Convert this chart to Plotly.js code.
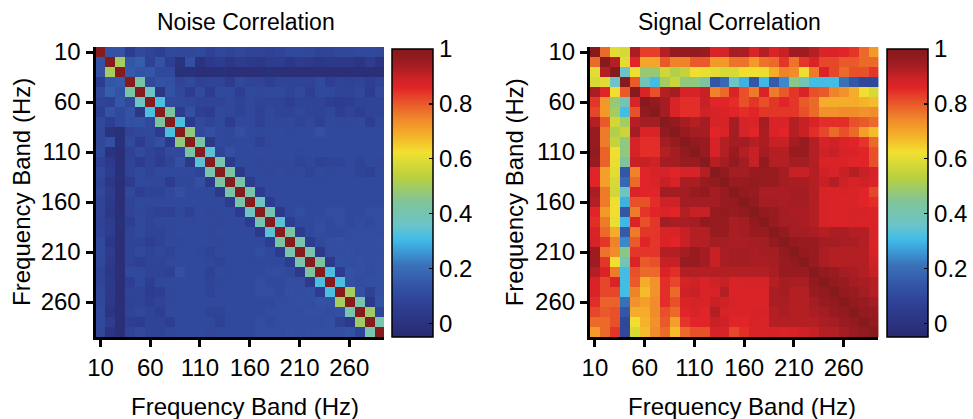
<!DOCTYPE html>
<html>
<head>
<meta charset="utf-8">
<script src="https://cdn.plot.ly/plotly-3.0.1.min.js"></script>
<style>html,body{margin:0;padding:0;background:#fff;}#chart{width:973px;height:419px;}</style>
</head>
<body>
<div id="chart"></div>
<script>
// Frequency bands (Hz)
const bands = [10,20,30,40,50,60,70,80,90,100,110,120,130,140,150,160,170,180,190,200,210,220,230,240,250,260,270,280,290];
const tickVals = [10,60,110,160,210,260];
const tickText = ['10','60','110','160','210','260'];
const cbVals = [0,0.2,0.4,0.6,0.8,1];
const cbText = ['0','0.2','0.4','0.6','0.8','1'];

// Noise correlation matrix (rows = y band, cols = x band)
const noise = [
[1,.13,.13,.05,.10,.08,.06,.10,.09,.09,.10,.07,.09,.08,.09,.08,.08,.07,.08,.10,.10,.09,.08,.08,.09,.09,.10,.10,.09],
[.13,1,.50,.14,.16,.07,.13,.06,.00,.12,.00,.04,.05,.02,.05,.04,.02,.05,.05,.02,.05,.04,.02,.04,.04,.03,.01,.05,.01],
[.13,.50,1,.15,.13,.14,.10,.10,-.01,-.01,-.02,-.02,-.01,-.02,-.02,-.02,-.02,-.01,-.02,-.02,-.02,-.02,-.02,-.02,-.02,-.02,-.02,-.02,-.02],
[.05,.14,.15,1,.42,.10,.13,.12,.08,.10,.07,.08,.08,.05,.09,.08,.08,.06,.08,.08,.08,.08,.10,.06,.08,.07,.08,.06,.08],
[.10,.16,.13,.42,1,.37,.02,.13,.09,.05,.10,.05,.10,.10,.06,.10,.09,.10,.10,.08,.10,.06,.10,.10,.08,.08,.09,.05,.10],
[.08,.07,.14,.10,.37,1,.32,.10,.10,.09,.08,.08,.08,.09,.08,.09,.08,.08,.08,.06,.08,.08,.08,.06,.05,.06,.08,.08,.08],
[.06,.13,.10,.13,.02,.32,1,.43,.05,.12,.06,.05,.10,.09,.08,.09,.07,.09,.08,.08,.09,.08,.08,.09,.06,.08,.06,.08,.08],
[.10,.06,.10,.12,.13,.10,.43,1,.32,.04,.10,.08,.10,.05,.10,.10,.07,.10,.09,.10,.08,.09,.07,.10,.09,.09,.10,.06,.09],
[.09,.00,-.01,.08,.09,.10,.05,.32,1,.47,.10,.12,.10,.09,.12,.10,.09,.10,.10,.09,.10,.10,.12,.10,.10,.10,.10,.10,.10],
[.09,.12,-.01,.10,.05,.09,.12,.04,.47,1,.42,.03,.10,.09,.10,.10,.07,.09,.10,.10,.10,.10,.10,.10,.10,.10,.10,.10,.10],
[.10,.00,-.02,.07,.10,.08,.06,.10,.10,.42,1,.34,.08,.12,.10,.10,.10,.10,.10,.10,.09,.10,.10,.10,.10,.10,.10,.10,.10],
[.07,.04,-.02,.08,.05,.08,.05,.08,.12,.03,.34,1,.41,.04,.10,.10,.09,.10,.09,.10,.08,.09,.07,.08,.08,.10,.08,.10,.09],
[.09,.05,-.01,.08,.10,.08,.10,.10,.10,.10,.08,.41,1,.42,.04,.10,.10,.09,.10,.09,.10,.08,.10,.09,.10,.10,.08,.07,.10],
[.08,.02,-.02,.05,.10,.09,.09,.05,.09,.09,.12,.04,.42,1,.42,.05,.10,.10,.10,.10,.10,.10,.09,.10,.10,.10,.10,.10,.10],
[.09,.05,-.02,.09,.06,.08,.08,.10,.12,.10,.10,.10,.04,.42,1,.41,.05,.10,.10,.10,.10,.10,.10,.10,.10,.10,.10,.10,.10],
[.08,.04,-.02,.08,.10,.09,.09,.10,.10,.10,.10,.10,.10,.05,.41,1,.37,.05,.10,.10,.10,.09,.10,.10,.10,.10,.10,.10,.10],
[.08,.02,-.02,.08,.09,.08,.07,.07,.09,.07,.10,.09,.10,.10,.05,.37,1,.40,.04,.10,.11,.10,.10,.11,.11,.10,.10,.11,.11],
[.07,.05,-.01,.06,.10,.08,.09,.10,.10,.09,.10,.10,.09,.10,.10,.05,.40,1,.34,.06,.10,.10,.11,.10,.11,.10,.11,.10,.11],
[.08,.05,-.02,.08,.10,.08,.08,.09,.10,.10,.10,.09,.10,.10,.10,.10,.04,.34,1,.43,.05,.10,.11,.10,.10,.11,.11,.11,.11],
[.10,.02,-.02,.08,.08,.06,.08,.10,.09,.10,.10,.10,.09,.10,.10,.10,.10,.06,.43,1,.41,.05,.10,.11,.12,.11,.11,.11,.12],
[.10,.05,-.02,.08,.10,.08,.09,.08,.10,.10,.09,.08,.10,.10,.10,.10,.11,.10,.05,.41,1,.41,.04,.11,.11,.12,.11,.11,.11],
[.09,.04,-.02,.08,.06,.08,.08,.09,.10,.10,.10,.09,.08,.10,.10,.09,.10,.10,.10,.05,.41,1,.43,.04,.12,.11,.12,.11,.12],
[.08,.02,-.02,.10,.10,.08,.08,.07,.12,.10,.10,.07,.10,.09,.10,.10,.10,.11,.11,.10,.04,.43,1,.32,.05,.13,.12,.11,.12],
[.08,.04,-.02,.06,.10,.06,.09,.10,.10,.10,.10,.08,.09,.10,.10,.10,.11,.10,.10,.11,.11,.04,.32,1,.32,.12,.11,.12,.12],
[.09,.04,-.02,.08,.08,.05,.06,.09,.10,.10,.10,.08,.10,.10,.10,.10,.11,.11,.10,.12,.11,.12,.05,.32,1,.50,.12,.07,.12],
[.09,.03,-.02,.07,.08,.06,.08,.09,.10,.10,.10,.10,.10,.10,.10,.10,.10,.10,.11,.11,.12,.11,.13,.12,.50,1,.41,.04,.13],
[.10,.01,-.02,.08,.09,.08,.06,.10,.10,.10,.10,.08,.08,.10,.10,.10,.10,.11,.11,.11,.11,.12,.12,.11,.12,.41,1,.49,.08],
[.10,.05,-.02,.06,.05,.08,.08,.06,.10,.10,.10,.10,.07,.10,.10,.10,.11,.10,.11,.11,.11,.11,.11,.12,.07,.04,.49,1,.41],
[.09,.01,-.02,.08,.10,.08,.08,.09,.10,.10,.10,.09,.10,.10,.10,.10,.11,.11,.11,.12,.11,.12,.12,.12,.12,.13,.08,.41,1]
];

// Signal correlation matrix
const signal = [
[1,.78,.60,.58,.93,.83,.83,.92,.97,.97,.97,.96,.87,.88,.94,.93,.87,.92,.87,.90,.95,.95,.92,.87,.87,.86,.84,.78,.72],
[.78,1,.92,.60,.86,.70,.70,.80,.75,.75,.80,.80,.72,.72,.77,.77,.72,.77,.78,.84,.77,.84,.87,.82,.82,.80,.80,.78,.78],
[.60,.92,1,.36,.62,.48,.48,.57,.52,.55,.62,.61,.60,.58,.58,.62,.62,.61,.69,.75,.74,.62,.76,.87,.82,.78,.81,.81,.84],
[.58,.60,.36,1,.80,.39,.31,.50,.56,.47,.47,.43,.14,.19,.37,.29,.14,.30,.15,.24,.46,.39,.31,.31,.31,.21,.14,.09,.09],
[.93,.86,.62,.80,1,.87,.81,.92,.94,.88,.88,.90,.75,.78,.87,.81,.76,.87,.76,.80,.84,.87,.81,.80,.75,.73,.69,.62,.58],
[.84,.72,.48,.39,.87,1,.97,.94,.87,.85,.85,.90,.86,.86,.85,.81,.84,.81,.84,.86,.84,.80,.78,.69,.69,.69,.69,.68,.67],
[.82,.72,.50,.31,.81,.97,1,.94,.87,.85,.85,.89,.88,.87,.86,.85,.86,.84,.84,.84,.84,.81,.78,.73,.73,.74,.74,.73,.74],
[.92,.80,.57,.50,.92,.94,.94,1,.97,.94,.92,.94,.88,.88,.94,.88,.87,.94,.87,.87,.92,.90,.87,.85,.85,.85,.81,.80,.78],
[.96,.76,.52,.56,.94,.87,.87,.97,1,.96,.94,.94,.86,.87,.94,.88,.86,.93,.87,.86,.92,.90,.85,.82,.78,.81,.78,.71,.67],
[.96,.76,.55,.47,.88,.85,.85,.94,.96,1,.97,.96,.88,.92,.94,.94,.92,.93,.90,.90,.94,.96,.92,.88,.89,.87,.86,.84,.78],
[.97,.79,.62,.47,.88,.85,.85,.92,.94,.97,1,.96,.88,.92,.96,.92,.90,.94,.92,.92,.96,.96,.92,.89,.90,.88,.87,.86,.81],
[.96,.79,.61,.43,.90,.90,.89,.94,.94,.96,.96,1,.92,.94,.97,.94,.90,.97,.92,.92,.94,.94,.92,.87,.87,.87,.86,.86,.81],
[.86,.71,.60,.14,.75,.86,.88,.88,.86,.88,.88,.92,1,.97,.94,.94,.96,.96,.96,.94,.90,.90,.92,.89,.88,.90,.92,.90,.88],
[.86,.71,.58,.19,.78,.86,.87,.90,.88,.93,.93,.96,.97,1,.96,.96,.97,.96,.96,.94,.93,.93,.92,.90,.92,.89,.88,.89,.87],
[.93,.76,.57,.37,.87,.86,.86,.94,.94,.94,.96,.97,.94,.96,1,.97,.96,.93,.93,.93,.94,.94,.92,.87,.87,.88,.87,.86,.82],
[.92,.76,.62,.29,.81,.81,.85,.89,.89,.94,.94,.94,.94,.96,.97,1,.97,.94,.94,.93,.94,.94,.92,.88,.87,.87,.87,.86,.85],
[.86,.72,.62,.14,.76,.84,.86,.87,.86,.92,.90,.90,.96,.97,.96,.97,1,.97,.96,.94,.93,.93,.92,.88,.87,.87,.88,.88,.87],
[.85,.76,.61,.30,.87,.81,.84,.94,.93,.93,.94,.97,.96,.96,.93,.94,.97,1,.96,.94,.94,.93,.92,.88,.87,.87,.88,.87,.87],
[.87,.78,.69,.15,.76,.84,.84,.87,.87,.90,.92,.92,.96,.96,.93,.94,.96,.96,1,.97,.94,.94,.93,.92,.93,.93,.92,.92,.88],
[.88,.84,.75,.24,.80,.86,.84,.87,.86,.90,.92,.92,.94,.94,.93,.93,.94,.94,.97,1,.97,.96,.96,.94,.94,.93,.93,.92,.87],
[.95,.77,.74,.46,.84,.84,.84,.92,.92,.94,.96,.94,.90,.93,.94,.94,.93,.94,.94,.97,1,.97,.96,.93,.92,.92,.92,.92,.88],
[.95,.84,.62,.39,.87,.80,.81,.90,.90,.96,.96,.94,.90,.93,.94,.94,.93,.93,.94,.96,.97,1,.96,.93,.92,.92,.92,.92,.89],
[.92,.87,.76,.31,.81,.78,.78,.87,.85,.92,.92,.92,.92,.92,.92,.92,.92,.92,.93,.96,.96,.96,1,.97,.96,.94,.93,.92,.90],
[.87,.82,.87,.31,.80,.69,.73,.85,.82,.88,.89,.87,.89,.90,.87,.88,.88,.88,.92,.94,.93,.93,.97,1,.97,.96,.94,.93,.92],
[.87,.82,.82,.31,.75,.67,.73,.85,.78,.89,.90,.87,.88,.92,.87,.87,.87,.87,.93,.94,.92,.92,.96,.97,1,.97,.96,.94,.92],
[.85,.79,.79,.21,.73,.71,.74,.85,.81,.87,.88,.87,.90,.89,.88,.87,.87,.87,.93,.93,.92,.92,.94,.96,.97,1,.97,.96,.94],
[.82,.80,.81,.14,.69,.69,.74,.81,.78,.86,.87,.86,.92,.88,.87,.87,.88,.88,.92,.93,.92,.92,.93,.94,.96,.97,1,.97,.96],
[.78,.78,.81,.09,.62,.68,.73,.80,.71,.84,.86,.86,.90,.89,.86,.86,.88,.87,.92,.92,.92,.92,.92,.93,.94,.96,.97,1,.97],
[.72,.78,.84,.09,.58,.67,.74,.78,.67,.78,.81,.81,.88,.87,.82,.85,.87,.87,.88,.87,.88,.89,.90,.92,.92,.94,.96,.97,1]
];

const zMin = -0.05, zMax = 1.0;
const cmap = [
 [-0.05,'#282a6e'],[0.06,'#2e3e92'],[0.13,'#3352a4'],[0.21,'#3a70b8'],[0.26,'#3c98d6'],
 [0.305,'#40bce8'],[0.36,'#6cc4c8'],[0.445,'#80c498'],[0.53,'#b8d040'],[0.623,'#f2e030'],
 [0.684,'#f5b02a'],[0.74,'#f08c2a'],[0.81,'#e8502a'],[0.86,'#e02428'],[0.895,'#cc2226'],
 [0.93,'#aa1e23'],[0.965,'#951b1f'],[1.0,'#861a1c']
];
const colorscale = cmap.map(d => [(d[0]-zMin)/(zMax-zMin), d[1]]);

const W = 973, H = 419;
const FONT = '"Liberation Sans", Arial, Helvetica, sans-serif';

function cbar(xpx){
  return {
    x: xpx/W, xanchor:'left', xpad:0, ypad:0,
    y: 1-193/H, yanchor:'middle',
    thickness:41, thicknessmode:'pixels', len:288, lenmode:'pixels',
    outlinewidth:1.5, outlinecolor:'#000',
    tickvals: cbVals, ticktext: cbText,
    ticks:'inside', ticklen:4, tickwidth:1.5, tickcolor:'#000',
    tickfont:{family:FONT, size:24, color:'#000'}
  };
}

const traces = [
 {type:'heatmap', x:bands, y:bands, z:noise, xaxis:'x', yaxis:'y',
  colorscale:colorscale, zmin:zMin, zmax:zMax, zsmooth:false, hoverinfo:'skip',
  colorbar:cbar(394)},
 {type:'heatmap', x:bands, y:bands, z:signal, xaxis:'x2', yaxis:'y2',
  colorscale:colorscale, zmin:zMin, zmax:zMax, zsmooth:false, hoverinfo:'skip',
  colorbar:cbar(892)}
];

function axis(extra){
  return Object.assign({
    tickvals:tickVals, ticktext:tickText, ticks:'outside', ticklen:7, tickwidth:3, tickcolor:'#000',
    showline:true, linewidth:3, linecolor:'#000', showgrid:false, zeroline:false, mirror:false,
    tickfont:{family:FONT, size:24, color:'#000'}, fixedrange:true
  }, extra);
}

const yDom = [1-337/H, 1-47/H];
const layout = {
  width:W, height:H, margin:{l:0,r:0,t:0,b:0},
  paper_bgcolor:'#fff', plot_bgcolor:'#fff', showlegend:false,
  font:{family:FONT, size:22, color:'#000'},
  xaxis: axis({domain:[96/W,386/W], range:[5,295], anchor:'y'}),
  yaxis: axis({domain:yDom, range:[295,5], anchor:'x'}),
  xaxis2: axis({domain:[593/W,883/W], range:[5,295], anchor:'y2'}),
  yaxis2: axis({domain:yDom, range:[295,5], anchor:'x2'}),
  annotations:[
    {text:'Noise Correlation', x:247/W, y:1-22/H, xref:'paper', yref:'paper', xanchor:'center', yanchor:'middle', showarrow:false, font:{family:FONT,size:23,color:'#000'}},
    {text:'Signal Correlation', x:733/W, y:1-22/H, xref:'paper', yref:'paper', xanchor:'center', yanchor:'middle', showarrow:false, font:{family:FONT,size:23,color:'#000'}},
    {text:'Frequency Band (Hz)', x:246/W, y:1-406/H, xref:'paper', yref:'paper', xanchor:'center', yanchor:'middle', showarrow:false, font:{family:FONT,size:24,color:'#000'}},
    {text:'Frequency Band (Hz)', x:746/W, y:1-406/H, xref:'paper', yref:'paper', xanchor:'center', yanchor:'middle', showarrow:false, font:{family:FONT,size:24,color:'#000'}},
    {text:'Frequency Band (Hz)', x:22/W, y:1-192/H, xref:'paper', yref:'paper', xanchor:'center', yanchor:'middle', textangle:-90, showarrow:false, font:{family:FONT,size:24,color:'#000'}},
    {text:'Frequency Band (Hz)', x:518/W, y:1-192/H, xref:'paper', yref:'paper', xanchor:'center', yanchor:'middle', textangle:-90, showarrow:false, font:{family:FONT,size:24,color:'#000'}}
  ]
};

Plotly.newPlot('chart', traces, layout, {staticPlot:true, displayModeBar:false});
</script>
</body>
</html>
